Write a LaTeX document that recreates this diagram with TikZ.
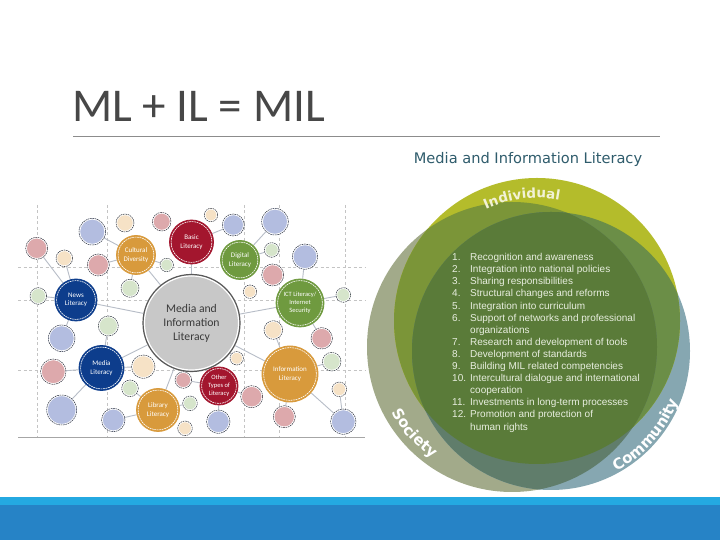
\documentclass[tikz,border=0pt]{standalone}
\usepackage{fontspec}
\setmainfont{Carlito}
\newfontfamily\dejavu{DejaVu Sans}
\newfontfamily\libsans{Liberation Sans}
\usetikzlibrary{calc,decorations.text}
\pgfdeclarelayer{bg}
\pgfsetlayers{bg,main}
\definecolor{titlegrey}{HTML}{474747}
\definecolor{ruleg}{HTML}{8C8C8C}
\definecolor{barlight}{HTML}{24A9E1}
\definecolor{bardark}{HTML}{2683C6}
\definecolor{gridc}{HTML}{C4C4C4}
\definecolor{linkc}{HTML}{B7BDC7}
\definecolor{cblue}{HTML}{0D3D8C}
\definecolor{cred}{HTML}{A3162E}
\definecolor{corange}{HTML}{D89A3C}
\definecolor{cgreen}{HTML}{6F9A3F}
\definecolor{cgrey}{HTML}{C8C8C8}
\definecolor{cgreyb}{HTML}{595959}
\definecolor{miltext}{HTML}{3A3A3A}
\definecolor{pblue}{HTML}{B3BDE0}
\definecolor{ppink}{HTML}{DDA9AC}
\definecolor{pgreen}{HTML}{D6E5CB}
\definecolor{ppeach}{HTML}{F6E2C6}
\definecolor{pborder}{HTML}{2E3440}
\definecolor{milteal}{HTML}{2F5C6C}
\definecolor{vI}{HTML}{B4BC2B}
\definecolor{vS}{HTML}{A2AA8A}
\definecolor{vC}{HTML}{86A7B1}
\definecolor{vIS}{HTML}{7B9538}
\definecolor{vIC}{HTML}{6B8E47}
\definecolor{vSC}{HTML}{607D6B}
\definecolor{vISC}{HTML}{5A7B39}
\definecolor{listc}{HTML}{E8EEDF}
\definecolor{indivc}{HTML}{F2F2D6}
\begin{document}
\begin{tikzpicture}[x=1pt,y=1pt,
  link/.style={draw=linkc, line width=0.9pt},
  gridline/.style={draw=gridc, line width=0.6pt, dash pattern=on 3pt off 2.5pt},
  mnode/.style={circle, inner sep=0pt, align=center, text=white,
    font=\fontsize{7}{8.6}\selectfont, fill=#1, draw=#1, line width=0.8pt,
    path picture={\draw[white, line width=0.6pt, dash pattern=on 1.8pt off 0.7pt]
      let \p1=(path picture bounding box.east), \p2=(path picture bounding box.center)
      in (\p2) circle[radius=\x1-\x2-1.6pt];}},
  snode/.style={circle, inner sep=0pt, fill=#1, draw=pborder, line width=0.5pt,
    dash pattern=on 1.6pt off 0.8pt,
    path picture={\draw[white, solid, line width=1.1pt]
      let \p1=(path picture bounding box.east), \p2=(path picture bounding box.center)
      in (\p2) circle[radius=\x1-\x2-0.6pt];}},
  listtext/.style={anchor=base west, inner sep=0pt, text=listc,
    font=\libsans\fontsize{10}{12}\selectfont},
  arclabel/.style={decorate, decoration={text along path, text align=center, text color=#1}}
]
\useasboundingbox (0,0) rectangle (720,540);
\begin{pgfonlayer}{bg}
  \fill[white] (0,0) rectangle (720,540);
\end{pgfonlayer}

% title
\node[anchor=base west, inner sep=0pt, text=titlegrey, font=\fontsize{47}{56}\selectfont] (title) at (72,418) {ML + IL = MIL};
\draw[ruleg, line width=0.8pt] (73,404) -- (660,404);

% bottom bars
\fill[bardark] (0,0) rectangle (720,35);
\fill[barlight] (0,35) rectangle (720,43);

% ---------------- left network ----------------
\node[circle, inner sep=0pt, minimum size=97pt, fill=cgrey, draw=cgreyb, line width=1.2pt,
  align=center, text=miltext, font=\fontsize{11.7}{14}\selectfont,
  path picture={\draw[white, line width=1.3pt]
      let \p1=(path picture bounding box.east), \p2=(path picture bounding box.center)
      in (\p2) circle[radius=\x1-\x2-1.4pt];}]
  (mil) at (191.5,217) {Media and\\Information\\Literacy};

\node[mnode=corange, minimum size=39pt] (cult) at (136,285) {Cultural\\Diversity};
\node[mnode=cred, minimum size=44pt] (basic) at (191.5,298) {Basic\\Literacy};
\node[mnode=cgreen, minimum size=39pt] (digital) at (240,280) {Digital\\Literacy};
\node[mnode=cgreen, minimum size=48pt, font=\fontsize{6.5}{8}\selectfont] (ict) at (300,237) {ICT Literacy/\\Internet\\Security};
\node[mnode=cblue, minimum size=42pt] (news) at (76,240) {News\\Literacy};
\node[mnode=cblue, minimum size=45pt] (media) at (101.5,172) {Media\\Literacy};
\node[mnode=corange, minimum size=43pt] (library) at (158,130) {Library\\Literacy};
\node[mnode=cred, minimum size=38pt, font=\fontsize{6.5}{8}\selectfont] (other) at (219,154) {Other\\Types of\\Literacy};
\node[mnode=corange, minimum size=56pt] (info) at (290,166) {Information\\Literacy};

\node[snode=pblue, minimum size=26.6pt] (s1) at (92.3,308.3) {};
\node[snode=ppeach, minimum size=18pt] (s2) at (125,317) {};
\node[snode=ppink, minimum size=18.6pt] (s3) at (161.7,318.3) {};
\node[snode=ppink, minimum size=22pt] (s4) at (36.7,291.7) {};
\node[snode=ppeach, minimum size=16.6pt] (s5) at (64.3,281.7) {};
\node[snode=ppink, minimum size=22pt] (s6) at (98.3,275) {};
\node[snode=pgreen, minimum size=13.4pt] (s7) at (166.7,275) {};
\node[snode=pgreen, minimum size=18pt] (s8) at (130,251.7) {};
\node[snode=pgreen, minimum size=16.6pt] (s9) at (38.3,244) {};
\node[snode=ppeach, minimum size=13.4pt] (s10) at (211,325) {};
\node[snode=pblue, minimum size=22pt] (s11) at (233.3,315) {};
\node[snode=pblue, minimum size=26.6pt] (s12) at (275,318.3) {};
\node[snode=pgreen, minimum size=14.6pt] (s13) at (271.7,290) {};
\node[snode=pblue, minimum size=25.4pt] (s14) at (305,283.3) {};
\node[snode=ppink, minimum size=22pt] (s15) at (272.7,265) {};
\node[snode=ppeach, minimum size=13.4pt] (s16) at (250,248.3) {};
\node[snode=pgreen, minimum size=14.6pt] (s17) at (343.3,245) {};
\node[snode=pgreen, minimum size=20pt] (s18) at (108.3,214) {};
\node[snode=pblue, minimum size=26.6pt] (s19) at (61.7,201.7) {};
\node[snode=ppink, minimum size=25.4pt] (s20) at (53.3,168.3) {};
\node[snode=ppeach, minimum size=23.4pt] (s21) at (143.3,173.3) {};
\node[snode=pgreen, minimum size=16.6pt] (s22) at (130,151.7) {};
\node[snode=ppink, minimum size=16.6pt] (s23) at (183.3,160) {};
\node[snode=pblue, minimum size=30pt] (s24) at (61.7,130) {};
\node[snode=pblue, minimum size=23.4pt] (s25) at (113.3,120) {};
\node[snode=pgreen, minimum size=14.6pt] (s26) at (190,136.7) {};
\node[snode=ppeach, minimum size=14.6pt] (s27) at (185,111.7) {};
\node[snode=ppeach, minimum size=18.6pt] (s28) at (273.3,210) {};
\node[snode=ppink, minimum size=21.4pt] (s29) at (321.7,201.7) {};
\node[snode=ppeach, minimum size=13.4pt] (s30) at (236.7,181.7) {};
\node[snode=pgreen, minimum size=18.6pt] (s31) at (331.7,178.3) {};
\node[snode=ppink, minimum size=22pt] (s32) at (251.7,143.3) {};
\node[snode=ppeach, minimum size=14.6pt] (s33) at (339.3,150.7) {};
\node[snode=ppink, minimum size=22pt] (s34) at (284.3,123.3) {};
\node[snode=pblue, minimum size=23.4pt] (s35) at (218.3,118.3) {};
\node[snode=pblue, minimum size=25.4pt] (s36) at (343.3,118.3) {};

\begin{pgfonlayer}{bg}
  \foreach \gx in {37,107,244,279,345} \draw[gridline] (\gx,335) -- (\gx,103);
  \foreach \gy in {273,240,170} \draw[gridline] (18,\gy) -- (365,\gy);
  \draw[gray!70, line width=0.8pt] (18,103) -- (365,103);
  \foreach \a/\b in {cult/s1, cult/s6, cult/s7, cult/s8, cult/mil,
      news/s4, news/s5, news/s9, news/mil, news/s19,
      basic/s11, basic/mil, digital/s12, digital/s13,
      ict/s14, ict/s17, ict/mil, ict/s29,
      media/mil, media/s18, media/s20, media/s21, media/s24,
      library/s22, library/s25, library/mil, library/s26,
      info/mil, info/s28, info/s31, info/s34, info/s36, s33/s36,
      other/mil, other/s35, other/s32, other/s23, mil/s30}
    \draw[link] (\a) -- (\b);
\end{pgfonlayer}

% ---------------- right Venn ----------------
\node[inner sep=0pt, text=milteal, font=\dejavu\fontsize{14.6}{17}\selectfont, anchor=base] (miltitle) at (528,376) {Media and Information Literacy};

\coordinate (cI) at (537,219);
\coordinate (cS) at (512,193);
\coordinate (cC) at (551,189);
\fill[vS] (cS) circle[radius=145];
\fill[vC] (cC) circle[radius=139];
\fill[vI] (cI) circle[radius=143];
\begin{scope}
  \clip (cI) circle[radius=143];
  \fill[vIS] (cS) circle[radius=145];
  \fill[vIC] (cC) circle[radius=139];
\end{scope}
\begin{scope}
  \clip (cS) circle[radius=145];
  \fill[vSC] (cC) circle[radius=139];
\end{scope}
\begin{scope}
  \clip (cI) circle[radius=143];
  \clip (cS) circle[radius=145];
  \fill[vISC] (cC) circle[radius=139];
\end{scope}

\path[arclabel=indivc, decoration={text={|\dejavu\bfseries\fontsize{13.5}{14}\selectfont|Individual}}]
  (cI) ++(125:123) arc[start angle=125, end angle=69, radius=123];
\path[arclabel=white, decoration={text={|\dejavu\bfseries\fontsize{15}{16}\selectfont|Society}}]
  (cS) ++(200:137) arc[start angle=200, end angle=243, radius=137];
\path[arclabel=white, decoration={text={|\dejavu\bfseries\fontsize{15}{16}\selectfont|Community}}]
  (cC) ++(294:137) arc[start angle=294, end angle=343, radius=137];

\foreach \n/\t [count=\i from 0] in {
  1./Recognition and awareness,
  2./Integration into national policies,
  3./Sharing responsibilities,
  4./Structural changes and reforms,
  5./Integration into curriculum,
  6./Support of networks and professional,
  /organizations,
  7./Research and development of tools,
  8./Development of standards,
  9./Building MIL related competencies,
  10./Intercultural dialogue and international,
  /cooperation,
  11./Investments in long-term processes,
  12./Promotion and protection of,
  /human rights}
  \node[listtext] (item\i) at (452,{279.3-12.1*\i}) {\makebox[18pt][l]{\n}\t};
\end{tikzpicture}
\end{document}
